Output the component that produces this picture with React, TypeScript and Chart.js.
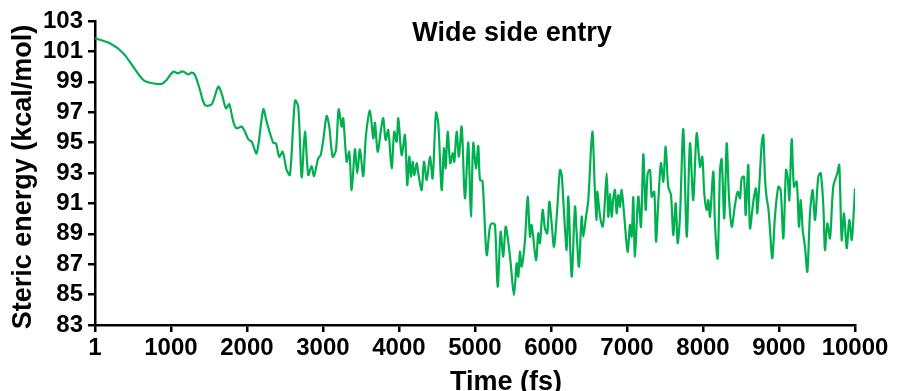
import React, { useEffect, useRef } from "react";
import { Chart, registerables } from "chart.js";

Chart.register(...registerables);

const chartTitle = "Wide side entry";
const xAxisTitle = "Time (fs)";
const yAxisTitle = "Steric energy (kcal/mol)";

const xTickValues = [1, 1000, 2000, 3000, 4000, 5000, 6000, 7000, 8000, 9000, 10000];
const yTickValues = [83, 85, 87, 89, 91, 93, 95, 97, 99, 101, 103];

const times = [
  1, 197, 372, 504, 636, 724, 878, 943, 1030, 1096, 1154, 1228, 1272, 1316, 1382, 1447, 1536, 1622, 1667, 1724,
  1767, 1820, 1864, 1930, 1974, 2017, 2062, 2128, 2215, 2259, 2346, 2382, 2425, 2470, 2522, 2566, 2632, 2675, 2720, 2763,
  2807, 2851, 2882, 2938, 2970, 3004, 3049, 3083, 3128, 3171, 3207, 3246, 3267, 3312, 3346, 3378, 3421, 3451, 3487, 3530,
  3566, 3618, 3662, 3684, 3720, 3763, 3793, 3825, 3859, 3904, 3938, 3970, 3991, 4036, 4079, 4109, 4136, 4158, 4180, 4201,
  4233, 4254, 4299, 4329, 4365, 4408, 4443, 4487, 4517, 4562, 4592, 4614, 4641, 4675, 4707, 4728, 4759, 4789, 4825, 4868,
  4912, 4946, 4978, 5013, 5043, 5066, 5099, 5154, 5197, 5228, 5263, 5299, 5338, 5372, 5404, 5438, 5470, 5513, 5549, 5570,
  5592, 5614, 5658, 5693, 5724, 5746, 5803, 5833, 5855, 5891, 5921, 5951, 5978, 6009, 6040, 6083, 6118, 6141, 6162, 6207,
  6228, 6272, 6316, 6338, 6368, 6404, 6425, 6461, 6491, 6544, 6579, 6601, 6609, 6636, 6654, 6680, 6697, 6733, 6754, 6776,
  6799, 6820, 6842, 6864, 6886, 6908, 6930, 6961, 7009, 7039, 7062, 7083, 7105, 7149, 7184, 7215, 7246, 7272, 7303, 7325,
  7359, 7382, 7412, 7447, 7478, 7509, 7543, 7579, 7609, 7641, 7667, 7697, 7741, 7786, 7829, 7872, 7917, 7961, 7991, 8017,
  8049, 8070, 8092, 8136, 8158, 8193, 8224, 8246, 8280, 8312, 8342, 8378, 8421, 8457, 8487, 8509, 8539, 8562, 8596, 8618,
  8662, 8697, 8714, 8741, 8773, 8794, 8816, 8838, 8860, 8882, 8912, 8947, 8991, 9022, 9057, 9092, 9114, 9136, 9167, 9197,
  9233, 9263, 9286, 9312, 9342, 9373, 9408, 9443, 9474, 9517, 9549, 9583, 9605, 9636, 9671, 9714, 9767, 9793, 9825, 9855,
  9891, 9925, 9957, 9980, 10000,
];

const energies = [
  101.86, 101.53, 100.88, 99.99, 99.12, 98.94, 98.86, 99.12, 99.66, 99.56, 99.69, 99.49, 99.6, 99.45, 98.46, 97.47, 97.52, 98.68, 98.24, 97.26,
  97.52, 96.38, 95.94, 96.05, 95.72, 95.22, 95.06, 94.3, 97.19, 96.38, 94.99, 94.95, 94.07, 94.4, 93.2, 92.87, 97.76, 97.36, 92.72, 95.72,
  92.87, 93.46, 92.8, 93.97, 94.18, 95.17, 96.75, 96.05, 94.07, 94.51, 97.19, 96.05, 96.6, 93.74, 94.4, 91.88, 94.56, 92.98, 94.56, 92.8,
  95.5, 97.1, 95.28, 96.31, 94.4, 95.83, 96.6, 95.17, 95.83, 93.31, 95.72, 95.06, 96.6, 94.18, 95.5, 92.21, 94.07, 92.76, 93.74, 92.87,
  93.64, 92.98, 91.88, 93.74, 92.54, 94.07, 92.65, 96.97, 96.27, 91.88, 94.62, 93.31, 95.72, 93.64, 94.3, 93.74, 95.72, 94.07, 96.05, 91.34,
  95.0, 90.13, 94.97, 93.31, 94.78, 92.54, 92.47, 87.61, 89.47, 89.69, 89.58, 85.52, 89.14, 87.49, 89.47, 88.48, 87.06, 84.97, 87.06, 86.18,
  87.82, 86.84, 88.59, 91.44, 88.81, 89.58, 87.28, 89.03, 88.38, 90.57, 89.36, 89.03, 91.11, 89.69, 88.15, 90.68, 93.2, 92.87, 91.22, 87.93,
  91.44, 86.18, 90.78, 89.03, 86.84, 90.13, 88.81, 90.13, 91.22, 95.72, 91.66, 89.91, 91.77, 90.57, 89.91, 89.47, 90.13, 92.98, 90.13, 91.66,
  90.13, 91.34, 91.88, 90.35, 91.55, 90.78, 91.88, 90.35, 87.82, 89.58, 88.81, 91.4, 87.49, 91.44, 89.47, 94.23, 90.57, 92.98, 93.2, 91.44,
  91.77, 88.48, 91.11, 93.64, 92.43, 94.73, 92.1, 91.55, 88.92, 91.01, 88.38, 90.13, 95.88, 88.81, 94.95, 91.22, 95.61, 93.41, 94.07, 91.66,
  90.57, 91.22, 90.13, 93.09, 89.58, 87.39, 93.2, 93.9, 90.02, 94.95, 91.44, 89.47, 90.89, 91.77, 91.34, 92.65, 92.76, 90.24, 93.53, 89.36,
  91.11, 91.99, 90.35, 92.21, 94.95, 95.5, 92.65, 91.34, 90.68, 89.25, 87.39, 90.13, 92.1, 91.88, 88.7, 93.2, 92.76, 91.22, 95.22, 92.1,
  92.43, 89.47, 91.22, 89.25, 88.15, 86.51, 90.35, 91.88, 89.91, 92.76, 92.98, 90.89, 87.93, 89.69, 88.7, 92.1, 92.98, 93.53, 88.59, 90.35,
  88.05, 89.91, 88.59, 90.13, 91.99,
];

const FONT = '"Liberation Sans", Arial, sans-serif';

const textPlugin = {
  id: "customTexts",
  afterDraw(chart: any) {
    const ctx = chart.ctx;
    ctx.save();
    ctx.fillStyle = "#000";
    ctx.textAlign = "center";
    ctx.textBaseline = "alphabetic";
    ctx.font = `bold 27px ${FONT}`;
    ctx.fillText(chartTitle, 512, 41);
    ctx.fillText(xAxisTitle, 506, 390);
    ctx.translate(24, 177);
    ctx.rotate(-Math.PI / 2);
    ctx.textBaseline = "middle";
    ctx.fillText(yAxisTitle, 0, 0);
    ctx.restore();
  },
};

export default function App() {
  const canvasRef = useRef<HTMLCanvasElement | null>(null);

  useEffect(() => {
    const prevMargin = document.body.style.margin;
    document.body.style.margin = "0";
    const canvas = canvasRef.current;
    if (!canvas) return;
    const points = times.map((t, i) => ({ x: t, y: energies[i] }));
    const chart = new Chart(canvas, {
      type: "line",
      data: {
        datasets: [
          {
            data: points,
            borderColor: "#00B050",
            borderWidth: 2.2,
            pointRadius: 0,
            tension: 0.3,
            fill: false,
          },
        ],
      },
      options: {
        animation: false,
        responsive: false,
        devicePixelRatio: 1,
        layout: { padding: { left: 0, right: 45, top: 21, bottom: 0 } },
        plugins: { legend: { display: false }, tooltip: { enabled: false }, title: { display: false } },
        scales: {
          x: {
            type: "linear",
            min: 1,
            max: 10000,
            afterBuildTicks: (scale: any) => {
              scale.ticks = xTickValues.map((v) => ({ value: v }));
            },
            afterFit: (scale: any) => {
              scale.height = 66;
            },
            ticks: {
              autoSkip: false,
              maxRotation: 0,
              minRotation: 0,
              padding: 2,
              color: "#000",
              font: { family: FONT, size: 24, weight: "bold" },
              callback: (v: any) => String(v),
            },
            grid: {
              drawOnChartArea: false,
              drawTicks: true,
              tickLength: 7,
              color: "#000",
              lineWidth: 2.5,
            },
            border: { display: true, color: "#000", width: 2.5 },
          },
          y: {
            type: "linear",
            min: 83,
            max: 103,
            afterBuildTicks: (scale: any) => {
              scale.ticks = yTickValues.map((v) => ({ value: v }));
            },
            afterFit: (scale: any) => {
              scale.width = 95;
            },
            ticks: {
              autoSkip: false,
              padding: 5,
              color: "#000",
              font: { family: FONT, size: 24, weight: "bold" },
              callback: (v: any) => String(v),
            },
            grid: {
              drawOnChartArea: false,
              drawTicks: true,
              tickLength: 7,
              color: "#000",
              lineWidth: 2.5,
            },
            border: { display: true, color: "#000", width: 2.5 },
          },
        },
      },
      plugins: [textPlugin],
    });
    return () => {
      chart.destroy();
      document.body.style.margin = prevMargin;
    };
  }, []);

  return (
    <div style={{ position: "absolute", left: 0, top: 0, width: 900, height: 391 }}>
      <canvas ref={canvasRef} width={900} height={391} style={{ display: "block" }} />
    </div>
  );
}
